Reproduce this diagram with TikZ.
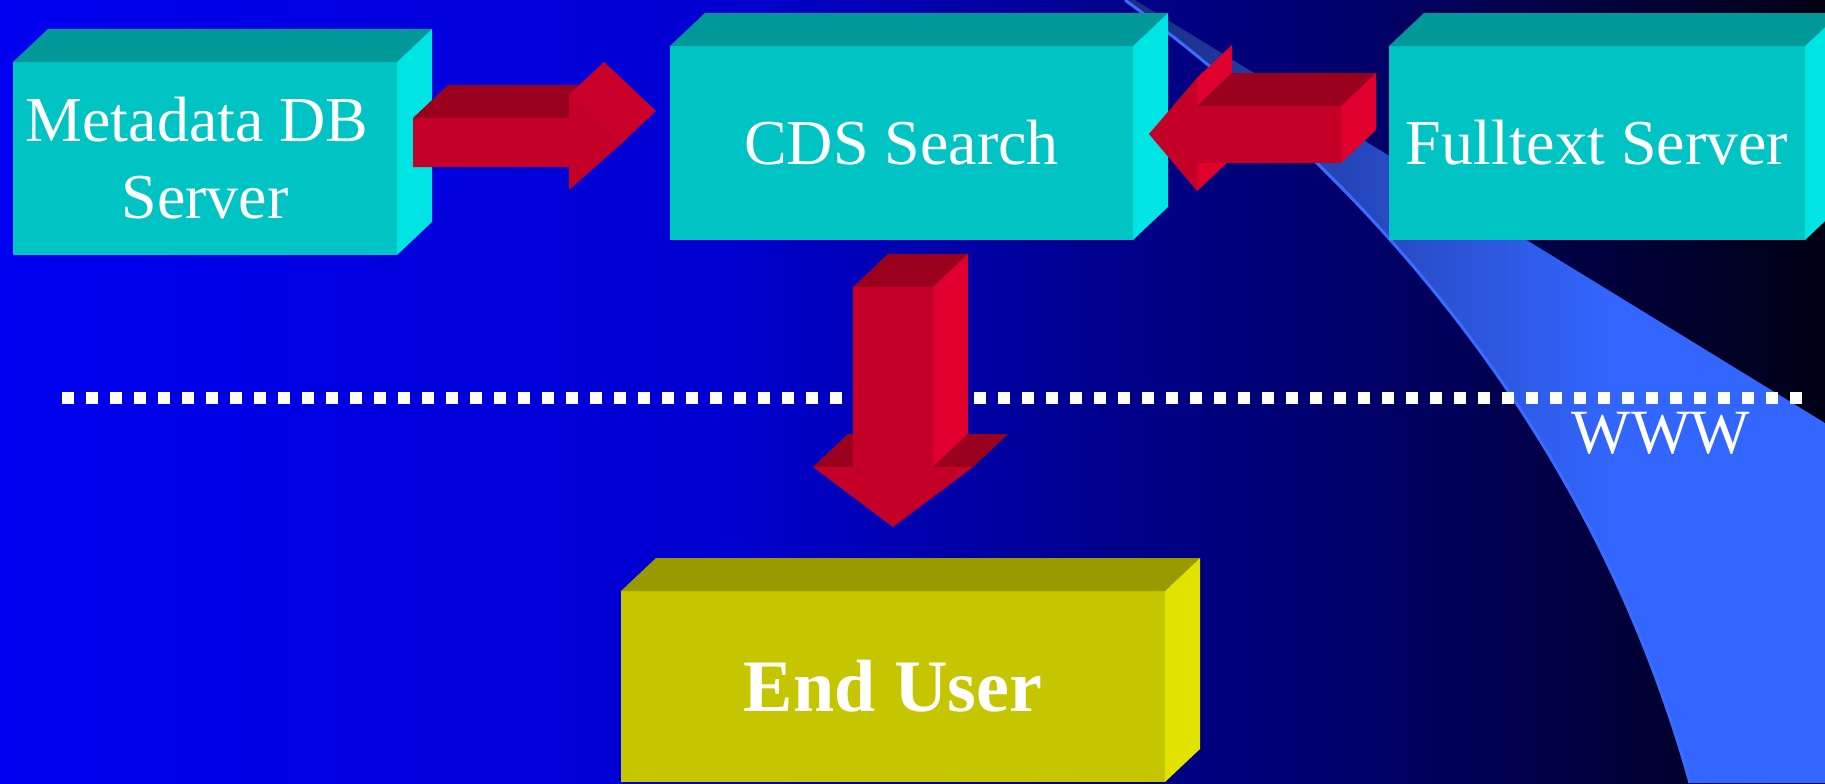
\documentclass[tikz,border=0pt]{standalone}
\usepackage{fontspec}
\setmainfont{Liberation Serif}

\definecolor{bgA}{HTML}{0000F0}
\definecolor{bgB}{HTML}{0000D0}
\definecolor{bgC}{HTML}{00008E}
\definecolor{bgD}{HTML}{000068}
\definecolor{bgE}{HTML}{000014}
\definecolor{beamdark}{HTML}{1A2C80}
\definecolor{beamlight}{HTML}{3366FF}
\definecolor{beamedge}{HTML}{3A6CFF}
\definecolor{cyanfront}{HTML}{00C4C4}
\definecolor{cyantop}{HTML}{009999}
\definecolor{cyanside}{HTML}{00E4E4}
\definecolor{yellowfront}{HTML}{C6C600}
\definecolor{yellowtop}{HTML}{999900}
\definecolor{yellowside}{HTML}{E2E200}
\definecolor{redfront}{HTML}{C40028}
\definecolor{redtop}{HTML}{9A001E}
\definecolor{redside}{HTML}{E0002E}
\definecolor{redslant}{HTML}{CA002A}

\pgfdeclarehorizontalshading{bgshade}{100bp}{color(0bp)=(bgA); color(25bp)=(bgA); color(45bp)=(bgB); color(55bp)=(bgC); color(62.5bp)=(bgD); color(75bp)=(bgE); color(100bp)=(bgE)}
\pgfdeclarehorizontalshading{beamshade}{100bp}{color(0bp)=(beamdark); color(25bp)=(beamdark); color(60bp)=(beamlight); color(100bp)=(beamlight)}

\begin{document}
\begin{tikzpicture}[x=0.5pt, y=-0.5pt,
    cyanbox/.style={rectangle, fill=cyanfront, text=white, inner sep=0pt, outer sep=0pt, align=center, font=\fontsize{32}{38.5}\selectfont},
    userbox/.style={rectangle, fill=yellowfront, text=white, inner sep=0pt, outer sep=0pt, font=\fontsize{37}{44}\selectfont\bfseries}]
    % Background
    \useasboundingbox (0,0) rectangle (1825,783);
    \clip (0,0) rectangle (1825,783);
    \shade[shading=bgshade] (0,0) rectangle (1825,783);
    % Beam
    \shade[shading=beamshade] (1125,0) .. controls (1416,215) and (1604,476) .. (1690,783)
        -- (1825,783) -- (1825,423) -- (1135,0) -- cycle;
    \draw[beamedge, line width=1.5pt] (1125,0) .. controls (1416,215) and (1604,476) .. (1690,783);
    % Nodes
    \node (meta) [cyanbox, minimum width=192pt, minimum height=96.5pt] at (205,158.5) {Metadata DB\hspace*{8pt}\\Server};
    \node (cds) [cyanbox, minimum width=231.5pt, minimum height=97pt] at (901.5,143) {CDS Search};
    \node (full) [cyanbox, minimum width=208pt, minimum height=97pt] at (1597,143) {Fulltext Server};
    \node (user) [userbox, minimum width=272pt, minimum height=95.5pt] at (893,686.5) {End User};
    \foreach \b/\t/\s in {meta/cyantop/cyanside, cds/cyantop/cyanside, full/cyantop/cyanside, user/yellowtop/yellowside} {
        \fill[\t] (\b.north west) -- ([shift={(35,-33)}]\b.north west) -- ([shift={(35,-33)}]\b.north east) -- (\b.north east) -- cycle;
        \fill[\s] (\b.north east) -- ([shift={(35,-33)}]\b.north east) -- ([shift={(35,-33)}]\b.south east) -- (\b.south east) -- cycle;
    }
    % Dotted line
    \coordinate (dotl) at (62,398);
    \coordinate (dotr) at (1802,398);
    \draw[white, line width=6pt, dash pattern=on 6pt off 6pt] (dotl) -- (dotr);
    \node (www) [text=white, font=\fontsize{31.5}{38}\selectfont] at (1661,433) {WWW};
    % Arrow: Metadata DB -> CDS Search
    \coordinate (a1) at ([shift={(16,-40.5)}]meta.east);
    \fill[redtop] (a1) -- ++(35,-33) -- ++(156,0) -- ++(-35,33) -- cycle;
    \fill[redslant] ([shift={(156,-23)}]a1) -- ++(35,-33) -- ++(52,49) -- ++(-35,33) -- cycle;
    \fill[redfront] (a1) -- ++(156,0) -- ++(0,-23) -- ++(52,49) -- ++(-52,46) -- ++(0,-23) -- ++(-156,0) -- cycle;
    % Arrow: Fulltext Server -> CDS Search
    \coordinate (a2) at ([shift={(-48,-37)}]full.west);
    \fill[redside] ([shift={(-144,57)}]a2) -- ++(35,-33) -- ++(0,28) -- ++(-35,33) -- cycle;
    \fill[redside] ([shift={(-144,-28)}]a2) -- ++(35,-33) -- ++(0,28) -- ++(-35,33) -- cycle;
    \fill[redtop] ([shift={(-144,0)}]a2) -- ++(35,-33) -- ++(144,0) -- ++(-35,33) -- cycle;
    \fill[redside] (a2) -- ++(35,-33) -- ++(0,57) -- ++(-35,33) -- cycle;
    \fill[redfront] (a2) -- ++(-144,0) -- ++(0,-28) -- ++(-48,56) -- ++(48,57) -- ++(0,-28) -- ++(144,0) -- cycle;
    % Arrow: CDS Search -> End User
    \coordinate (a3) at ([shift={(-48.5,47)}]cds.south);
    \fill[redtop] (a3) -- ++(35,-33) -- ++(80,0) -- ++(-35,33) -- cycle;
    \fill[redside] ([shift={(80,0)}]a3) -- ++(35,-33) -- ++(0,180) -- ++(-35,33) -- cycle;
    \fill[redtop] ([shift={(-40,180)}]a3) -- ++(35,-33) -- ++(40,0) -- ++(-35,33) -- cycle;
    \fill[redtop] ([shift={(80,180)}]a3) -- ++(40,0) -- ++(35,-33) -- ++(-40,0) -- cycle;
    \fill[redfront] (a3) -- ++(80,0) -- ++(0,180) -- ++(40,0) -- ++(-80,60) -- ++(-80,-60) -- ++(40,0) -- cycle;
\end{tikzpicture}
\end{document}
